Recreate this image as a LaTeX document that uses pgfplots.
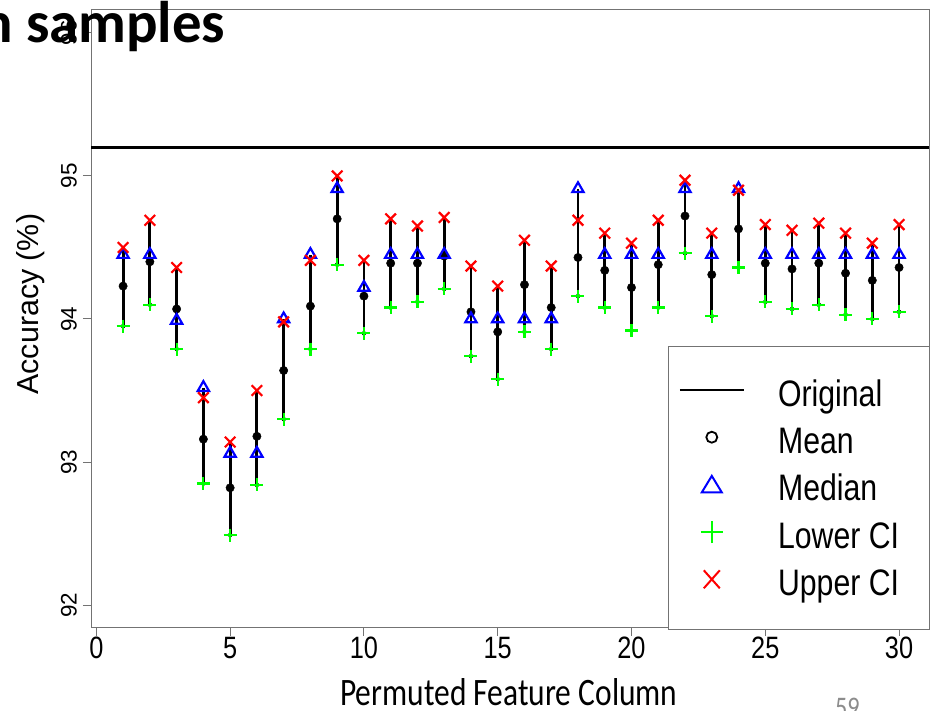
\documentclass[border=0pt]{standalone}
\usepackage{fontspec}
\usepackage{pgfplots}
\usepackage{pgfplotstable}
\pgfplotsset{compat=1.18}
\setmainfont{Liberation Sans}
\newfontfamily\plotfont[FakeStretch=0.82]{Liberation Sans}
\newfontfamily\yfont{Liberation Sans}
\newfontfamily\calfont[FakeStretch=0.81]{Carlito}
\newfontfamily\titlefont{Carlito}

% accuracy summary for each permuted feature column
\pgfplotstableread{
x  mean   median lower  upper
1  94.23  94.45  93.95  94.50
2  94.40  94.45  94.10  94.69
3  94.07  93.99  93.79  94.36
4  93.16  93.52  92.85  93.45
5  92.82  93.06  92.49  93.14
6  93.18  93.06  92.84  93.50
7  93.64  94.00  93.30  93.98
8  94.09  94.45  93.79  94.41
9  94.70  94.91  94.38  95.00
10 94.16  94.22  93.90  94.41
11 94.39  94.45  94.08  94.70
12 94.39  94.45  94.12  94.65
13 94.44  94.45  94.21  94.71
14 94.05  94.00  93.74  94.37
15 93.91  94.00  93.58  94.23
16 94.24  94.00  93.91  94.55
17 94.08  94.00  93.79  94.37
18 94.43  94.91  94.16  94.69
19 94.34  94.45  94.08  94.60
20 94.22  94.45  93.92  94.53
21 94.38  94.45  94.08  94.69
22 94.72  94.91  94.46  94.97
23 94.31  94.45  94.02  94.60
24 94.63  94.91  94.36  94.90
25 94.39  94.45  94.12  94.66
26 94.35  94.45  94.07  94.62
27 94.39  94.45  94.10  94.67
28 94.32  94.45  94.03  94.60
29 94.27  94.45  94.00  94.53
30 94.36  94.45  94.05  94.66
}\perm

\newcommand\legtext[1]{\makebox[141bp][l]{\vphantom{Olg}#1}}
\newcommand\legbox{\path[draw=none, fill=none] (-32bp,-15bp) rectangle (32bp,15bp);}

\begin{document}
\begin{tikzpicture}
\path[use as bounding box, clip] (0,0) rectangle (932bp,711bp);
\begin{axis}[
  at={(91bp,83bp)}, anchor=south west,
  scale only axis, width=838.3bp, height=618bp,
  xmin=-0.2, xmax=31.13, ymin=91.84, ymax=96.16,
  xtick={0,5,...,30}, ytick={92,93,94,95,96},
  xtick pos=left, ytick pos=left,
  tick align=outside, major tick length=8bp,
  tick style={black!55, line width=1bp},
  axis line style={black!55, line width=1bp},
  /pgf/number format/assume math mode=true,
  xticklabel style={font=\plotfont\fontsize{31}{31}\selectfont, inner sep=1bp},
  yticklabel style={font=\yfont\fontsize{22.5}{22.5}\selectfont, rotate=90, anchor=south, inner sep=1bp, yshift=5bp},
  ylabel={Accuracy (\%)},
  ylabel style={font=\yfont\fontsize{30.5}{30.5}\selectfont, at={(axis description cs:-0.0716,0.524)}, anchor=center},
  xlabel={Permuted Feature Column},
  xlabel style={font=\calfont\fontsize{39}{39}\selectfont, at={(axis description cs:0.4985,-0.1246)}, anchor=base},
  legend cell align=left,
  legend style={at={(0.6883,0.4563)}, anchor=north west, draw=black!55, line width=1bp, fill=white,
    inner xsep=10bp, inner ysep=32bp, row sep=17.2bp, column sep=33bp,
    nodes={inner sep=0pt}, font=\plotfont\fontsize{37}{37}\selectfont},
]
% original model accuracy
\addplot[black, line width=2.6bp, forget plot] coordinates {(-0.2,95.2) (31.13,95.2)};
% range of each column, from lower CI to the highest summary value
\addplot[only marks, mark=none, forget plot,
  error bars/.cd, y dir=plus, y explicit, error mark=none,
  error bar style={draw=black, line width=2.8bp}]
  table[x=x, y=lower, y error plus expr={max(\thisrow{upper},\thisrow{median})-\thisrow{lower}}] {\perm};
\addplot[only marks, mark=*, mark size=4.2bp, black, forget plot] table[x=x, y=mean] {\perm};
\addplot[only marks, mark=triangle, mark size=6.5bp, blue, line width=2.2bp, forget plot] table[x=x, y=median] {\perm};
\addplot[only marks, mark=+, mark size=6.5bp, green, line width=2.2bp, forget plot] table[x=x, y=lower] {\perm};
\addplot[only marks, mark=x, mark size=7.5bp, red, line width=2.2bp, forget plot] table[x=x, y=upper] {\perm};

\addlegendimage{legend image code/.code={\legbox
  \draw[black, line width=2.6bp] (-32bp,3.5bp) -- (32bp,3.5bp);}}
\addlegendentry{\legtext{Original}}
\addlegendimage{legend image code/.code={\legbox
  \draw[black, line width=1.8bp] (0,3.5bp) circle (5.5bp);}}
\addlegendentry{\legtext{Mean}}
\addlegendimage{legend image code/.code={\legbox
  \draw[blue, line width=2bp] (-10bp,-4.5bp) -- (10bp,-4.5bp) -- (0bp,12bp) -- cycle;}}
\addlegendentry{\legtext{Median}}
\addlegendimage{legend image code/.code={\legbox
  \draw[green, line width=2bp] (-11bp,3.5bp) -- (11bp,3.5bp) (0,-7.5bp) -- (0,14.5bp);}}
\addlegendentry{\legtext{Lower CI}}
\addlegendimage{legend image code/.code={\legbox
  \draw[red, line width=2bp] (-8bp,-5.5bp) -- (8bp,12.5bp) (-8bp,12.5bp) -- (8bp,-5.5bp);}}
\addlegendentry{\legtext{Upper CI}}
\end{axis}
\node[anchor=base west, inner sep=0pt, font=\titlefont\bfseries\fontsize{59}{59}\selectfont] at (-19bp,668bp) {n samples};
\node[anchor=north west, inner sep=0pt, text=black!45, font=\calfont\fontsize{30}{30}\selectfont] at (835bp,13bp) {59};
\end{tikzpicture}
\end{document}
